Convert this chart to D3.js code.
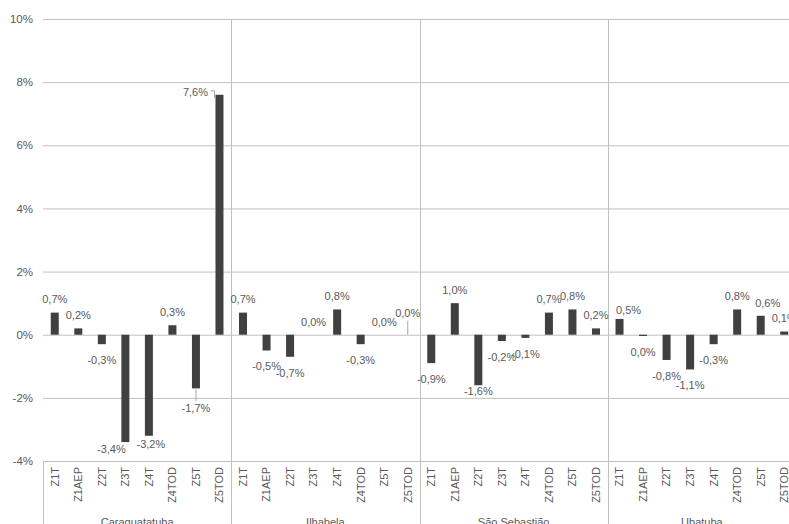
<!DOCTYPE html>
<html>
<head>
<meta charset="utf-8">
<script src="https://cdn.jsdelivr.net/npm/d3@7"></script>
<style>
  html, body { margin: 0; padding: 0; background: #fff; overflow: hidden; }
  svg { display: block; font-family: "Liberation Sans", Arial, sans-serif; }
</style>
</head>
<body>
<svg id="chart" width="789" height="524"></svg>
<script>
// ---- data ----
const groups = ["Caraguatatuba", "Ilhabela", "São Sebastião", "Ubatuba"];
const zones = ["Z1T", "Z1AEP", "Z2T", "Z3T", "Z4T", "Z4TOD", "Z5T", "Z5TOD"];
const caraguatatuba = [0.7, 0.2, -0.3, -3.4, -3.2, 0.3, -1.7, 7.6];
const ilhabela = [0.7, -0.5, -0.7, 0.0, 0.8, -0.3, 0.0, 0.0];
const saoSebastiao = [-0.9, 1.0, -1.6, -0.2, -0.1, 0.7, 0.8, 0.2];
const ubatuba = [0.5, -0.04, -0.8, -1.1, -0.3, 0.8, 0.6, 0.1];
const yTicks = [-4, -2, 0, 2, 4, 6, 8, 10];

const seriesByGroup = {
  "Caraguatatuba": caraguatatuba,
  "Ilhabela": ilhabela,
  "São Sebastião": saoSebastiao,
  "Ubatuba": ubatuba
};

// label nudges (as Excel labels were moved by hand), [dx, dy]
const labelNudge = {
  "Caraguatatuba|Z3T": [-14, -9],
  "Caraguatatuba|Z4T": [2, -8],
  "Caraguatatuba|Z5T": [0, 4],
  "Caraguatatuba|Z5TOD": [-24, 10],
  "Ilhabela|Z5TOD": [0, -9],
  "São Sebastião|Z2T": [0, -10],
  "Ubatuba|Z1T": [9, 4],
  "Ubatuba|Z5T": [7, 0]
};
const leaderLines = ["Caraguatatuba|Z5TOD", "Caraguatatuba|Z5T", "Ilhabela|Z5TOD"];

// ---- layout ----
const W = 789, H = 524;
const plotLeft = 43, plotRight = 796, plotTop = 19, plotBottom = 461;
const textColor = "#595959", gridColor = "#c0c0c0", barColor = "#404040";

const svg = d3.select("#chart");

const y = d3.scaleLinear().domain([-4, 10]).range([plotBottom, plotTop]);
const gx = d3.scaleBand().domain(groups).range([plotLeft, plotRight]);
const zx = d3.scaleBand().domain(zones).range([0, gx.bandwidth()])
  .paddingInner(0.66).paddingOuter(0.33);

// gridlines
const grid = svg.append("g").attr("transform", `translate(${plotLeft},0)`)
  .call(d3.axisLeft(y).tickValues(yTicks).tickSize(-(plotRight - plotLeft)).tickFormat(""));
grid.select(".domain").remove();
grid.selectAll(".tick line").attr("stroke", gridColor).attr("stroke-width", 1);

// y axis labels
const yAxis = svg.append("g").attr("transform", `translate(${plotLeft - 10},0)`)
  .call(d3.axisLeft(y).tickValues(yTicks).tickSize(0).tickPadding(0).tickFormat(d => d + "%"));
yAxis.select(".domain").remove();
yAxis.selectAll("text").attr("fill", textColor).style("font-size", "11.5px")
  .style("font-family", "'Liberation Sans', Arial, sans-serif");

// group separators
groups.forEach((g, i) => {
  const xx = Math.round(gx(g)) + 0.5;
  svg.append("line")
    .attr("x1", xx).attr("x2", xx)
    .attr("y1", i === 0 ? plotBottom : plotTop).attr("y2", H)
    .attr("stroke", gridColor).attr("stroke-width", 1);
});

function fmt(v) {
  let r = Math.round(v * 10) / 10;
  if (r === 0) r = 0;
  return (r < 0 ? "-" : "") + Math.abs(r).toFixed(1).replace(".", ",") + "%";
}

groups.forEach(g => {
  const g0 = gx(g);
  const vals = seriesByGroup[g];
  const data = zones.map((z, i) => ({ z, v: vals[i] }));
  const grp = svg.append("g").attr("transform", `translate(${g0},0)`);

  // bars
  grp.selectAll("rect").data(data).join("rect")
    .attr("x", d => zx(d.z))
    .attr("width", zx.bandwidth())
    .attr("y", d => y(Math.max(0, d.v)))
    .attr("height", d => Math.abs(y(d.v) - y(0)))
    .attr("fill", barColor);

  // labels
  data.forEach(d => {
    const key = g + "|" + d.z;
    const nd = labelNudge[key] || [0, 0];
    const cx = zx(d.z) + zx.bandwidth() / 2;
    const ly = d.v >= 0 ? y(d.v) - 13 : y(d.v) + 16;
    const tx = cx + nd[0], ty = ly + nd[1];
    grp.append("text")
      .attr("x", tx).attr("y", ty)
      .attr("dy", "0.35em")
      .attr("text-anchor", "middle")
      .attr("fill", textColor)
      .style("font-size", "11px")
      .text(fmt(d.v));
    if (leaderLines.includes(key)) {
      const end = y(d.v);
      let path;
      if (nd[0] < -5) {
        path = `M${tx + 15},${ty - 1}H${tx + 19}V${end + 3}`;
      } else if (d.v >= 0) {
        path = `M${cx},${ty + 8}V${end}`;
      } else {
        path = `M${cx},${end + 1}V${ty - 7}`;
      }
      grp.append("path").attr("d", path).attr("fill", "none")
        .attr("stroke", "#a6a6a6").attr("stroke-width", 1);
    }
  });

  // zone labels (rotated)
  const ax = grp.append("g").attr("transform", `translate(0,${plotBottom})`)
    .call(d3.axisBottom(zx).tickSize(0).tickPadding(0));
  ax.select(".domain").remove();
  ax.selectAll("text")
    .attr("transform", "rotate(-90)")
    .attr("x", -6).attr("y", 0).attr("dy", "0.35em")
    .attr("text-anchor", "end")
    .attr("fill", textColor)
    .style("font-size", "11px")
    .style("font-family", "'Liberation Sans', Arial, sans-serif");

  // group label
  grp.append("text")
    .attr("x", gx.bandwidth() / 2).attr("y", 526)
    .attr("text-anchor", "middle")
    .attr("fill", textColor)
    .style("font-size", "11px")
    .text(g);
});
</script>
</body>
</html>
